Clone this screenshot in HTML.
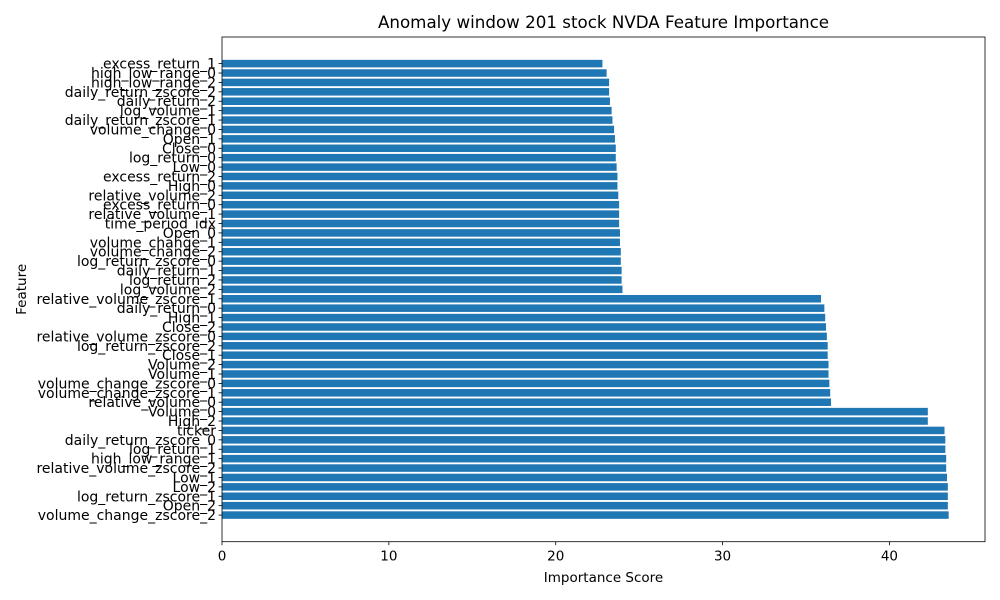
<!DOCTYPE html>
<html><head><meta charset="utf-8"><style>
body{margin:0;background:#fff;}
svg{display:block;font-family:"DejaVu Sans","Liberation Sans",sans-serif;}
</style></head><body>
<svg id="chart" width="1000" height="600"></svg>
<script>
const features = ["volume_change_zscore_2","Open_2","log_return_zscore_1","Low_2","Low_1","relative_volume_zscore_2","high_low_range_1","log_return_1","daily_return_zscore_0","ticker","High_2","Volume_0","relative_volume_0","volume_change_zscore_1","volume_change_zscore_0","Volume_1","Volume_2","Close_1","log_return_zscore_2","relative_volume_zscore_0","Close_2","High_1","daily_return_0","relative_volume_zscore_1","log_volume_2","log_return_2","daily_return_1","log_return_zscore_0","volume_change_2","volume_change_1","Open_0","time_period_idx","relative_volume_1","excess_return_0","relative_volume_2","High_0","excess_return_2","Low_0","log_return_0","Close_0","Open_1","volume_change_0","daily_return_zscore_1","log_volume_1","daily_return_2","daily_return_zscore_2","high_low_range_2","high_low_range_0","excess_return_1"];
const scores = [43.55,43.5,43.5,43.5,43.45,43.4,43.4,43.35,43.35,43.3,42.3,42.3,36.5,36.45,36.4,36.35,36.35,36.3,36.3,36.25,36.2,36.15,36.1,35.9,24.0,23.95,23.95,23.9,23.9,23.85,23.85,23.8,23.8,23.8,23.75,23.7,23.7,23.65,23.6,23.6,23.55,23.5,23.4,23.35,23.25,23.2,23.2,23.05,22.8];
const xTicks = [0,10,20,30,40];

const NS="http://www.w3.org/2000/svg";
const svg=document.getElementById('chart');
const L=222,R=985,T=37,B=541.7;
const xmax=Math.max(...scores)*1.05;
const n=scores.length;
const pad=2.83;
const ylo=-pad, yhi=n-1+pad;
const xs=v=>L+v/xmax*(R-L);
const ys=i=>B-(i-ylo)/(yhi-ylo)*(B-T);
function mk(tag,attrs,parent){const e=document.createElementNS(NS,tag);for(const k in attrs)e.setAttribute(k,attrs[k]);(parent||svg).appendChild(e);return e;}
const bh=0.8*(B-T)/(yhi-ylo);
scores.forEach((v,i)=>{
  const r=mk('rect',{x:L,y:ys(i)-bh/2,width:xs(v)-L,height:bh,fill:'#1f77b4'});
  
  
  mk('line',{x1:L-3.5,x2:L,y1:ys(i),y2:ys(i),stroke:'#000','stroke-width':0.8});
  const t=mk('text',{x:L-6,y:ys(i)+5,'text-anchor':'end','font-size':14});
  t.textContent=features[i];
  
  
});
xTicks.forEach(v=>{
  mk('line',{x1:xs(v),x2:xs(v),y1:B,y2:B+3.5,stroke:'#000','stroke-width':0.8});
  const t=mk('text',{x:xs(v),y:B+19,'text-anchor':'middle','font-size':13.5});
  t.textContent=v;
  
  
});
const fr=mk('rect',{x:L,y:T,width:R-L,height:B-T,fill:'none',stroke:'#000','stroke-width':0.8});


const tt=mk('text',{x:(L+R)/2,y:T-9,'text-anchor':'middle','font-size':16.7});
tt.textContent='Anomaly window 201 stock NVDA Feature Importance';


const xt=mk('text',{x:(L+R)/2,y:582,'text-anchor':'middle','font-size':13.5});
xt.textContent='Importance Score';


const yt=mk('text',{x:26,y:(T+B)/2,'text-anchor':'middle','font-size':13.5,transform:`rotate(-90 26 ${(T+B)/2})`});
yt.textContent='Feature';


</script>
</body></html>
